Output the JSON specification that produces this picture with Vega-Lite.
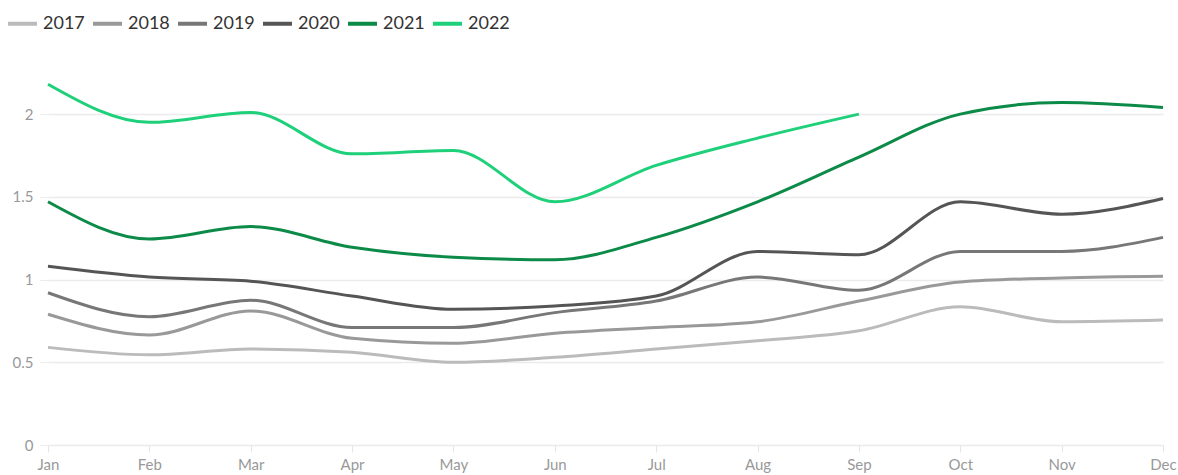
{
  "$schema": "https://vega.github.io/schema/vega-lite/v6.json",
  "autosize": "none",
  "width": 1115,
  "height": 364,
  "padding": {"left": 48, "top": 81, "right": 15, "bottom": 30},
  "background": "white",
  "config": {
    "view": {"stroke": null},
    "font": "Lato",
    "axis": {"labelFont": "Lato", "labelColor": "#999999", "labelFontSize": 15}
  },
  "data": {
    "values": [
      {"year": "2017", "month": "Jan", "value": 0.59},
      {"year": "2017", "month": "Feb", "value": 0.545},
      {"year": "2017", "month": "Mar", "value": 0.58},
      {"year": "2017", "month": "Apr", "value": 0.56},
      {"year": "2017", "month": "May", "value": 0.5},
      {"year": "2017", "month": "Jun", "value": 0.53},
      {"year": "2017", "month": "Jul", "value": 0.58},
      {"year": "2017", "month": "Aug", "value": 0.63},
      {"year": "2017", "month": "Sep", "value": 0.69},
      {"year": "2017", "month": "Oct", "value": 0.835},
      {"year": "2017", "month": "Nov", "value": 0.745},
      {"year": "2017", "month": "Dec", "value": 0.755},
      {"year": "2018", "month": "Jan", "value": 0.79},
      {"year": "2018", "month": "Feb", "value": 0.665},
      {"year": "2018", "month": "Mar", "value": 0.81},
      {"year": "2018", "month": "Apr", "value": 0.645},
      {"year": "2018", "month": "May", "value": 0.615},
      {"year": "2018", "month": "Jun", "value": 0.675},
      {"year": "2018", "month": "Jul", "value": 0.71},
      {"year": "2018", "month": "Aug", "value": 0.745},
      {"year": "2018", "month": "Sep", "value": 0.87},
      {"year": "2018", "month": "Oct", "value": 0.985},
      {"year": "2018", "month": "Nov", "value": 1.01},
      {"year": "2018", "month": "Dec", "value": 1.02},
      {"year": "2019", "month": "Jan", "value": 0.92},
      {"year": "2019", "month": "Feb", "value": 0.775},
      {"year": "2019", "month": "Mar", "value": 0.875},
      {"year": "2019", "month": "Apr", "value": 0.71},
      {"year": "2019", "month": "May", "value": 0.71},
      {"year": "2019", "month": "Jun", "value": 0.8},
      {"year": "2019", "month": "Jul", "value": 0.87},
      {"year": "2019", "month": "Aug", "value": 1.015},
      {"year": "2019", "month": "Sep", "value": 0.935},
      {"year": "2019", "month": "Oct", "value": 1.17},
      {"year": "2019", "month": "Nov", "value": 1.17},
      {"year": "2019", "month": "Dec", "value": 1.255},
      {"year": "2020", "month": "Jan", "value": 1.08},
      {"year": "2020", "month": "Feb", "value": 1.015},
      {"year": "2020", "month": "Mar", "value": 0.99},
      {"year": "2020", "month": "Apr", "value": 0.9},
      {"year": "2020", "month": "May", "value": 0.82},
      {"year": "2020", "month": "Jun", "value": 0.84},
      {"year": "2020", "month": "Jul", "value": 0.9},
      {"year": "2020", "month": "Aug", "value": 1.17},
      {"year": "2020", "month": "Sep", "value": 1.15},
      {"year": "2020", "month": "Oct", "value": 1.47},
      {"year": "2020", "month": "Nov", "value": 1.395},
      {"year": "2020", "month": "Dec", "value": 1.49},
      {"year": "2021", "month": "Jan", "value": 1.47},
      {"year": "2021", "month": "Feb", "value": 1.245},
      {"year": "2021", "month": "Mar", "value": 1.32},
      {"year": "2021", "month": "Apr", "value": 1.195},
      {"year": "2021", "month": "May", "value": 1.135},
      {"year": "2021", "month": "Jun", "value": 1.12},
      {"year": "2021", "month": "Jul", "value": 1.255},
      {"year": "2021", "month": "Aug", "value": 1.47},
      {"year": "2021", "month": "Sep", "value": 1.74},
      {"year": "2021", "month": "Oct", "value": 2.0},
      {"year": "2021", "month": "Nov", "value": 2.07},
      {"year": "2021", "month": "Dec", "value": 2.04},
      {"year": "2022", "month": "Jan", "value": 2.18},
      {"year": "2022", "month": "Feb", "value": 1.95},
      {"year": "2022", "month": "Mar", "value": 2.01},
      {"year": "2022", "month": "Apr", "value": 1.76},
      {"year": "2022", "month": "May", "value": 1.78},
      {"year": "2022", "month": "Jun", "value": 1.47},
      {"year": "2022", "month": "Jul", "value": 1.69},
      {"year": "2022", "month": "Aug", "value": 1.855},
      {"year": "2022", "month": "Sep", "value": 2.0}
    ]
  },
  "mark": {"type": "line", "interpolate": "monotone", "strokeWidth": 3},
  "encoding": {
    "x": {
      "field": "month",
      "type": "ordinal",
      "sort": ["Jan","Feb","Mar","Apr","May","Jun","Jul","Aug","Sep","Oct","Nov","Dec"],
      "scale": {"type": "point", "padding": 0},
      "axis": {
        "title": null,
        "labelAngle": 0,
        "domain": false,
        "grid": false,
        "ticks": true,
        "tickColor": "#e6e6e6",
        "tickSize": 7,
        "labelPadding": 5,
        "labelOverlap": false
      }
    },
    "y": {
      "field": "value",
      "type": "quantitative",
      "scale": {"domain": [0, 2.2], "nice": false},
      "axis": {
        "title": null,
        "values": [0, 0.5, 1, 1.5, 2],
        "format": ".1~f",
        "domain": false,
        "grid": true,
        "gridColor": "#ebebeb",
        "gridWidth": 1.5,
        "ticks": true,
        "tickColor": "#ebebeb",
        "tickSize": 8,
        "labelPadding": 7
      }
    },
    "color": {
      "field": "year",
      "type": "nominal",
      "scale": {
        "domain": ["2017","2018","2019","2020","2021","2022"],
        "range": ["#bbbbbb","#999999","#777777","#555555","#0c8a48","#1fd07a"]
      },
      "legend": {
        "title": null,
        "orient": "none",
        "legendX": -42,
        "legendY": -74,
        "direction": "horizontal",
        "symbolType": "stroke",
        "symbolSize": 841,
        "symbolStrokeWidth": 4,
        "labelFontSize": 18,
        "labelColor": "#333333",
        "labelFont": "Lato",
        "labelOffset": 4,
        "columnPadding": 0
      }
    }
  }
}
